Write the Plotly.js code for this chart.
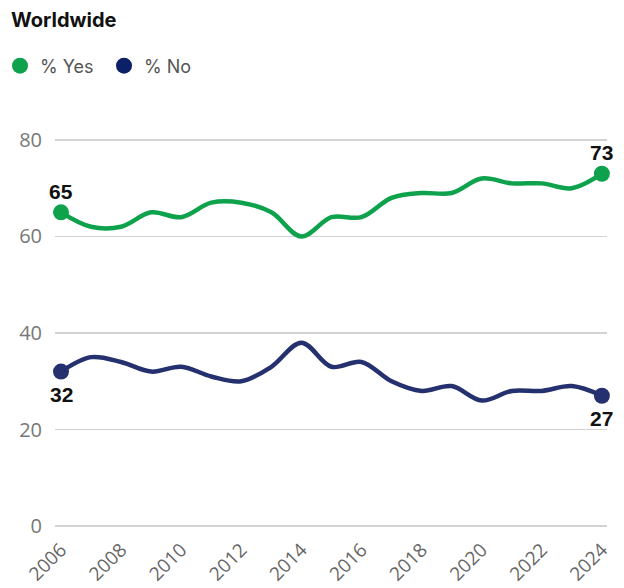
<!DOCTYPE html>
<html>
<head>
<meta charset="utf-8">
<script src="https://cdn.plot.ly/plotly-3.0.1.min.js"></script>
<style>
  html, body { margin: 0; padding: 0; background: #fff; }
  #chart { width: 624px; height: 588px; }
</style>
</head>
<body>
<div id="chart"></div>
<script>
// Survey years and share of answers, worldwide
const years = [2006, 2007, 2008, 2009, 2010, 2011, 2012, 2013, 2014, 2015,
               2016, 2017, 2018, 2019, 2020, 2021, 2022, 2023, 2024];
const yesPct = [65, 62, 62, 65, 64, 67, 67, 65, 60, 64,
                64, 68, 69, 69, 72, 71, 71, 70, 73];
const noPct  = [32, 35, 34, 32, 33, 31, 30, 33, 38, 33,
                34, 30, 28, 29, 26, 28, 28, 29, 27];
const seriesNames = ['% Yes', '% No'];
const yTicks = [0, 20, 40, 60, 80];
const xTicks = [2006, 2008, 2010, 2012, 2014, 2016, 2018, 2020, 2022, 2024];

const W = 624, H = 588;
const GREEN = '#0fa24c';
const NAVY = '#25306f';
const NAVY_DOT = '#0b2066';

const last = years.length - 1;
const endX = [years[0], years[last]];

const labelFont = { family: 'Liberation Sans, Arial, sans-serif', size: 21, color: '#111' };

const traces = [
  {
    x: years, y: yesPct, mode: 'lines', type: 'scatter',
    line: { color: GREEN, width: 4.5, shape: 'spline', smoothing: 1 },
    showlegend: false, hoverinfo: 'skip'
  },
  {
    x: years, y: noPct, mode: 'lines', type: 'scatter',
    line: { color: NAVY, width: 4.5, shape: 'spline', smoothing: 1 },
    showlegend: false, hoverinfo: 'skip'
  },
  {
    x: endX, y: [yesPct[0], yesPct[last]], mode: 'markers', type: 'scatter',
    marker: { color: GREEN, size: 16 },
    cliponaxis: false, showlegend: false, hoverinfo: 'skip'
  },
  {
    x: endX, y: [noPct[0], noPct[last]], mode: 'markers', type: 'scatter',
    marker: { color: NAVY, size: 16 },
    cliponaxis: false, showlegend: false, hoverinfo: 'skip'
  },
  // legend entries
  {
    x: [null], y: [null], mode: 'markers', type: 'scatter', name: seriesNames[0],
    marker: { color: GREEN, size: 16 }, showlegend: true
  },
  {
    x: [null], y: [null], mode: 'markers', type: 'scatter', name: seriesNames[1],
    marker: { color: NAVY_DOT, size: 16 }, showlegend: true
  }
];

// value labels at the first and last survey year
const annotations = [];
[[yesPct, 21], [noPct, -23]].forEach(([arr, shift]) => {
  [0, last].forEach(i => {
    annotations.push({
      x: years[i], y: arr[i], xref: 'x', yref: 'y',
      text: '<b>' + arr[i] + '</b>', showarrow: false,
      yshift: shift, font: labelFont
    });
  });
});

const layout = {
  width: W, height: H,
  margin: { l: 55, r: 17, t: 138, b: 60 },
  paper_bgcolor: '#fff', plot_bgcolor: '#fff',
  title: {
    text: '<b>Worldwide</b>',
    x: 11 / W, xref: 'container', xanchor: 'left',
    y: 1 - 20 / H, yref: 'container', yanchor: 'middle',
    font: { family: 'Inter, Liberation Sans, sans-serif', size: 20, weight: 700, color: '#111' }
  },
  showlegend: true,
  legend: {
    orientation: 'h',
    x: 0, xref: 'container', xanchor: 'left',
    y: 1 - 66 / H, yref: 'container', yanchor: 'middle',
    font: { family: 'Inter, Roboto, sans-serif', size: 18, color: '#555' },
    entrywidth: 59, entrywidthmode: 'pixels',
    bgcolor: 'rgba(0,0,0,0)'
  },
  annotations: annotations,
  xaxis: {
    range: [2005.8, 2024.17],
    tickvals: xTicks,
    ticktext: xTicks.map(String),
    tickangle: -45,
    showgrid: false, zeroline: false, showline: false,
    ticks: '', ticklen: 0, ticklabelstandoff: 6,
    tickfont: { family: 'Open Sans, sans-serif', size: 19, color: '#666' },
    fixedrange: true
  },
  yaxis: {
    range: [-0.4, 80.4],
    tickvals: yTicks,
    showgrid: true, gridcolor: '#d3d3d3', gridwidth: 1.5,
    zeroline: false, showline: false,
    ticks: '', ticklabelstandoff: 12,
    tickfont: { family: 'Open Sans, sans-serif', size: 20, color: '#777' },
    fixedrange: true
  }
};

Plotly.newPlot('chart', traces, layout, { displayModeBar: false, staticPlot: true });
</script>
</body>
</html>
